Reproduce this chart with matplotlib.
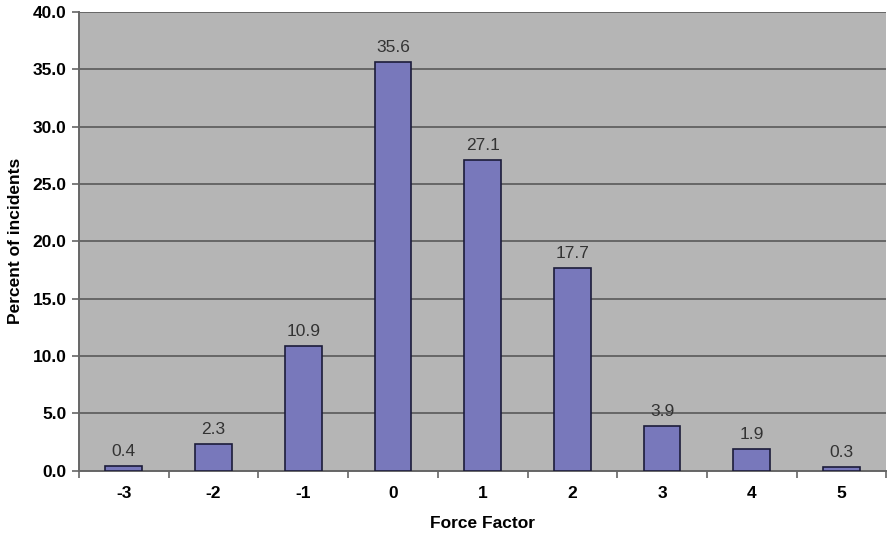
import matplotlib.pyplot as plt

force_factor = ["-3", "-2", "-1", "0", "1", "2", "3", "4", "5"]
percent = [0.4, 2.3, 10.9, 35.6, 27.1, 17.7, 3.9, 1.9, 0.3]
y_ticks = [0, 5, 10, 15, 20, 25, 30, 35, 40]

plt.rcParams['font.family'] = ['Liberation Sans', 'DejaVu Sans']

fig = plt.figure(figsize=(8.89, 5.36), dpi=100)
ax = fig.add_axes([0.0889, 0.1222, 0.9081, 0.8554])
ax.set_facecolor('#b5b5b5')

x = range(len(percent))
ax.bar(x, percent, width=0.41, color='#7878bb', edgecolor='#1c1c3a',
       linewidth=1.2, zorder=3)
for xi, v in zip(x, percent):
    ax.annotate(f"{v:.1f}", (xi, v), xytext=(0, 5), textcoords='offset points',
                ha='center', va='bottom', fontsize=12.5, color='#333333')

ax.set_xlim(-0.5, len(percent) - 0.5)
ax.set_ylim(0, 40)
ax.set_yticks(y_ticks)
ax.set_yticklabels([f"{t:.1f}" for t in y_ticks], fontsize=12.5, fontweight='bold')
ax.yaxis.grid(True, color='#666666', linewidth=1.4, zorder=0)
ax.set_axisbelow(True)

ax.set_xticks(list(x))
ax.set_xticklabels(force_factor, fontsize=12.5, fontweight='bold')
ax.set_xticks([i + 0.5 for i in range(-1, len(percent))], minor=True)
ax.tick_params(axis='x', which='major', length=0, pad=11)
ax.tick_params(axis='x', which='minor', length=5, color='#666666', width=1.2)
ax.tick_params(axis='y', length=5, color='#666666', width=1.2, pad=4)

for side in ['top', 'right']:
    ax.spines[side].set_visible(False)
ax.spines['left'].set_color('#666666')
ax.spines['left'].set_linewidth(1.4)
ax.spines['bottom'].set_color('#666666')
ax.spines['bottom'].set_linewidth(1.4)

ax.set_xlabel("Force Factor", fontsize=12.5, fontweight='bold', labelpad=11)
ax.set_ylabel("Percent of incidents", fontsize=12.5, fontweight='bold', labelpad=7)

fig.savefig("out.png", dpi=100)
